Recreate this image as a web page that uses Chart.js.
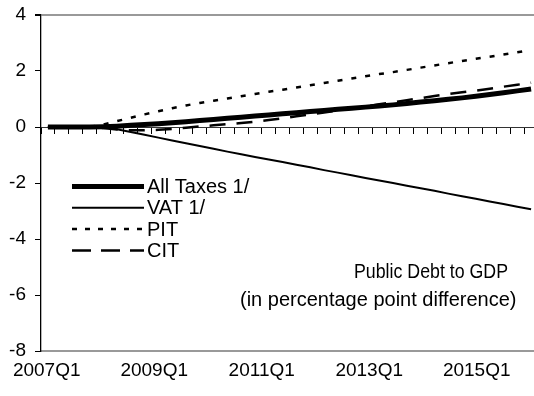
<!DOCTYPE html>
<html>
<head>
<meta charset="utf-8">
<script src="https://cdn.jsdelivr.net/npm/chart.js@4.4.0/dist/chart.umd.min.js"></script>
<style>
  html, body { margin: 0; padding: 0; background: #fff; overflow: hidden; }
  #wrap { width: 540px; height: 396px; position: relative; }
</style>
</head>
<body>
<div id="wrap"><canvas id="chart"></canvas></div>
<script>
const quarters = [
    "2007Q1", "2007Q2", "2007Q3", "2007Q4", "2008Q1", "2008Q2", "2008Q3", "2008Q4",
    "2009Q1", "2009Q2", "2009Q3", "2009Q4", "2010Q1", "2010Q2", "2010Q3", "2010Q4",
    "2011Q1", "2011Q2", "2011Q3", "2011Q4", "2012Q1", "2012Q2", "2012Q3", "2012Q4",
    "2013Q1", "2013Q2", "2013Q3", "2013Q4", "2014Q1", "2014Q2", "2014Q3", "2014Q4",
    "2015Q1", "2015Q2", "2015Q3", "2015Q4"
];
const xTickLabels = ["2007Q1", "2009Q1", "2011Q1", "2013Q1", "2015Q1"];

const allTaxes = [
    0, 0, 0, 0, 0.01, 0.03, 0.06, 0.09, 0.12, 0.15, 0.19, 0.23,
    0.27, 0.31, 0.35, 0.39, 0.43, 0.47, 0.51, 0.55, 0.59, 0.63, 0.67, 0.71,
    0.75, 0.79, 0.84, 0.89, 0.94, 0.99, 1.04, 1.10, 1.16, 1.22, 1.29, 1.36
];
const vat = [
    0, 0, 0, 0, -0.01, -0.08, -0.18, -0.28, -0.38, -0.48, -0.58, -0.68,
    -0.78, -0.88, -0.97, -1.07, -1.16, -1.25, -1.35, -1.44, -1.54, -1.63, -1.72, -1.82,
    -1.91, -2.00, -2.10, -2.19, -2.28, -2.38, -2.47, -2.56, -2.66, -2.75, -2.85, -2.94
];
const pit = [
    0, 0, 0, 0, 0.09, 0.21, 0.33, 0.45, 0.56, 0.67, 0.77, 0.86,
    0.94, 1.02, 1.10, 1.18, 1.26, 1.33, 1.41, 1.49, 1.57, 1.65, 1.73, 1.81,
    1.89, 1.96, 2.04, 2.12, 2.20, 2.28, 2.36, 2.44, 2.51, 2.59, 2.67, 2.75
];
const cit = [
    0, 0, 0, 0, -0.04, -0.09, -0.12, -0.12, -0.10, -0.07, -0.03, 0.02,
    0.06, 0.10, 0.14, 0.19, 0.25, 0.31, 0.38, 0.45, 0.52, 0.59, 0.66, 0.73,
    0.81, 0.88, 0.96, 1.03, 1.11, 1.18, 1.24, 1.30, 1.37, 1.44, 1.51, 1.58
];

const FONT = '"Liberation Sans", Arial, sans-serif';

// legend and the note sit inside the plot, drawn by hand
const insideText = {
    id: "insideText",
    afterDraw(chart) {
        const ctx = chart.ctx;
        ctx.save();
        chart.data.datasets.forEach((ds, i) => {
            const y = 186.5 + i * 21.3;
            ctx.beginPath();
            ctx.setLineDash(ds.legendDash || []);
            ctx.lineWidth = ds.borderWidth;
            ctx.strokeStyle = ds.borderColor;
            ctx.moveTo(72, y);
            ctx.lineTo(144, y);
            ctx.stroke();
            ctx.setLineDash([]);
            ctx.fillStyle = "#000";
            ctx.font = "20px " + FONT;
            ctx.textBaseline = "middle";
            ctx.textAlign = "left";
            ctx.fillText(ds.label, 147, y + 1);
        });
        ctx.font = "20px " + FONT;
        ctx.textBaseline = "alphabetic";
        ctx.textAlign = "left";
        ctx.fillText("Public Debt to GDP", 354, 278, 154);
        ctx.fillText("(in percentage point difference)", 240, 306, 277);
        ctx.restore();
    }
};

const noPad = (s) => {
    s.paddingTop = 0;
    s.paddingBottom = 0;
    s.paddingLeft = 0;
    s.paddingRight = 0;
};

new Chart(document.getElementById("chart"), {
    type: "line",
    data: {
        labels: quarters,
        datasets: [
            { label: "All Taxes 1/", data: allTaxes, borderColor: "#000", borderWidth: 5, legendDash: [] },
            { label: "VAT 1/", data: vat, borderColor: "#000", borderWidth: 2, legendDash: [] },
            { label: "PIT", data: pit, borderColor: "#000", borderWidth: 2.5, borderDash: [5, 9], legendDash: [5, 8] },
            { label: "CIT", data: cit, borderColor: "#000", borderWidth: 2.5, borderDash: [16, 11], legendDash: [19, 10] }
        ]
    },
    options: {
        responsive: true,
        maintainAspectRatio: false,
        animation: false,
        layout: { padding: { top: 15, right: 2, left: 0, bottom: 0 } },
        elements: { point: { radius: 0 }, line: { tension: 0, fill: false } },
        plugins: { legend: { display: false }, tooltip: { enabled: false } },
        scales: {
            x: {
                type: "category",
                position: { y: 0 },
                offset: true,
                grid: { offset: true, drawOnChartArea: false, tickLength: 6, tickColor: "#000", tickWidth: 1 },
                border: { color: "#333", width: 1 },
                ticks: { display: false },
                afterFit: (s) => { s.height = 0; noPad(s); }
            },
            x2: {
                type: "linear",
                position: "bottom",
                min: -0.053,
                max: 4.57,
                grid: { display: false, drawTicks: false },
                border: { display: true, color: "#999", width: 2 },
                ticks: {
                    stepSize: 1,
                    includeBounds: false,
                    autoSkip: false,
                    maxRotation: 0,
                    padding: 8,
                    color: "#000",
                    font: { family: FONT, size: 19 },
                    callback: (v) => (Number.isInteger(v) ? xTickLabels[v] : "")
                },
                afterFit: (s) => { s.height = 45; noPad(s); }
            },
            y: {
                min: -8,
                max: 4,
                ticks: { stepSize: 2, padding: 9, color: "#000", font: { family: FONT, size: 19 } },
                grid: {
                    color: (c) => (c.tick && c.tick.value === 4 ? "#999" : "rgba(0,0,0,0)"),
                    lineWidth: (c) => (c.tick && c.tick.value === 4 ? 2 : 1),
                    tickColor: "#000",
                    tickLength: 6
                },
                border: { color: "#000", width: 1.3 },
                afterFit: (s) => { s.width = 41; noPad(s); }
            }
        }
    },
    plugins: [insideText]
});
</script>
</body>
</html>
